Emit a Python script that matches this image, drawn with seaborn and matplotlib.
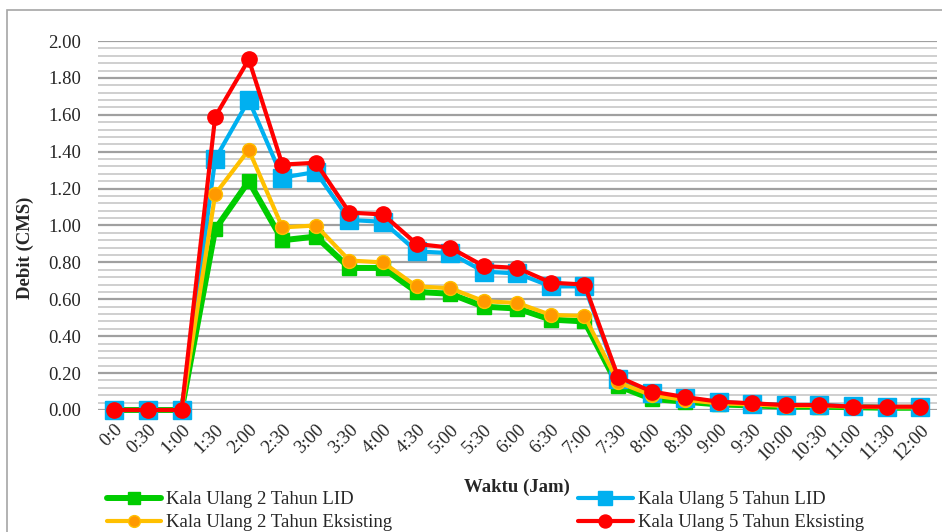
import numpy as np
import pandas as pd
import seaborn as sns
import matplotlib
matplotlib.use('Agg')
import matplotlib.pyplot as plt
from matplotlib.ticker import MultipleLocator, FormatStrFormatter
from matplotlib.patches import Rectangle

# %% Data

waktu = ['0:0', '0:30', '1:00', '1:30', '2:00', '2:30', '3:00', '3:30', '4:00', '4:30',
         '5:00', '5:30', '6:00', '6:30', '7:00', '7:30', '8:00', '8:30', '9:00', '9:30',
         '10:00', '10:30', '11:00', '11:30', '12:00']

lid_2 = [0.00, 0.00, 0.00, 0.98, 1.24, 0.92, 0.94, 0.77, 0.77, 0.64,
         0.63, 0.56, 0.55, 0.49, 0.48, 0.13, 0.06, 0.045, 0.03, 0.025,
         0.018, 0.018, 0.015, 0.012, 0.012]
lid_5 = [0.00, 0.00, 0.00, 1.36, 1.68, 1.26, 1.29, 1.03, 1.02, 0.86,
         0.85, 0.75, 0.74, 0.67, 0.67, 0.17, 0.09, 0.065, 0.043, 0.035,
         0.027, 0.027, 0.02, 0.016, 0.016]
eks_2 = [0.00, 0.00, 0.00, 1.17, 1.41, 0.99, 1.00, 0.81, 0.80, 0.67,
         0.66, 0.59, 0.58, 0.515, 0.51, 0.15, 0.08, 0.055, 0.036, 0.03,
         0.022, 0.022, 0.018, 0.015, 0.015]
eks_5 = [0.00, 0.00, 0.00, 1.59, 1.90, 1.33, 1.34, 1.07, 1.06, 0.90,
         0.88, 0.78, 0.77, 0.69, 0.68, 0.18, 0.10, 0.07, 0.045, 0.036,
         0.027, 0.027, 0.018, 0.018, 0.018]

series_names = ['Kala Ulang 2 Tahun LID', 'Kala Ulang 5 Tahun LID',
                'Kala Ulang 2 Tahun Eksisting', 'Kala Ulang 5 Tahun Eksisting']
series_values = [lid_2, lid_5, eks_2, eks_5]

# %% Styles

styles = {
    'Kala Ulang 2 Tahun LID': dict(color='#00CC00', lw=4.3, marker='s', ms=10.5, mfc='#00CC00', mec='#00CC00'),
    'Kala Ulang 5 Tahun LID': dict(color='#00B0F0', lw=3.0, marker='s', ms=12.5, mfc='#00B0F0', mec='#00B0F0'),
    'Kala Ulang 2 Tahun Eksisting': dict(color='#FFC000', lw=3.0, marker='o', ms=10, mfc='#FF9900', mec='#FFC000'),
    'Kala Ulang 5 Tahun Eksisting': dict(color='#FF0000', lw=3.0, marker='o', ms=11, mfc='#FF0000', mec='#FF0000'),
}
FS = 13.5

sns.set_theme(style='white')
plt.rcParams['font.family'] = ['Liberation Serif', 'DejaVu Serif']

df = pd.DataFrame({'idx': np.tile(np.arange(len(waktu)), len(series_names)),
                   'value': np.concatenate(series_values),
                   'series': np.repeat(series_names, len(waktu))})

fig = plt.figure(figsize=(9.42, 5.32), dpi=100)
ax = fig.add_axes([97.7 / 942, 1 - 410 / 532, (937 - 97.7) / 942, (410 - 41) / 532])

# %% Lines

handles = {}
for name in series_names:
    st = styles[name]
    sub = df[df['series'] == name]
    sns.lineplot(data=sub, x='idx', y='value', ax=ax, color=st['color'], linewidth=st['lw'],
                 marker=st['marker'], markersize=st['ms'], markerfacecolor=st['mfc'],
                 markeredgecolor=st['mec'], markeredgewidth=1, clip_on=False, zorder=3,
                 legend=False)
    handles[name] = ax.lines[-1]

# %% Axes, grid, labels

ax.set_xlim(-0.5, 24.5)
ax.set_ylim(0, 2.0)
ax.yaxis.set_major_locator(MultipleLocator(0.2))
ax.yaxis.set_minor_locator(MultipleLocator(0.04))
ax.yaxis.set_major_formatter(FormatStrFormatter('%.2f'))
ax.grid(which='major', axis='y', color='#A0A0A0', lw=1.6, zorder=0)
ax.grid(which='minor', axis='y', color='#CFCFCF', lw=1.4, zorder=0)
ax.set_axisbelow(True)
for s in ax.spines.values():
    s.set_visible(False)
ax.tick_params(axis='both', which='both', length=0)
ax.tick_params(axis='y', labelsize=FS, pad=12)
ax.set_xticks(range(len(waktu)))
ax.set_xticklabels(waktu, rotation=45, ha='right', rotation_mode='anchor', fontsize=FS)
ax.tick_params(axis='x', pad=8)
ax.set_xlabel('')
ax.set_ylabel('')

fig.text(25 / 942, 1 - 248 / 532, 'Debit (CMS)', rotation=90, ha='center', va='center',
         fontsize=FS, fontweight='bold')
fig.text(517 / 942, 1 - 487 / 532, 'Waktu (Jam)', ha='center', va='center',
         fontsize=FS, fontweight='bold')

order = [series_names[0], series_names[2], series_names[1], series_names[3]]
fig.legend([handles[n] for n in order], order, ncol=2, loc='upper left',
           bbox_to_anchor=(107 / 942, 1 - 491 / 532), frameon=False, fontsize=FS,
           handlelength=2.9, handletextpad=0.27, columnspacing=9.9, labelspacing=0.32,
           markerscale=0.85, borderpad=0, borderaxespad=0)

# chart frame
fig.patches.append(Rectangle((7 / 942, -0.05), 1.1, 0.05 + 1 - 10 / 532, transform=fig.transFigure,
                             fill=False, edgecolor='#A6A6A6', lw=1.2))

plt.savefig('out.png', dpi=100)
